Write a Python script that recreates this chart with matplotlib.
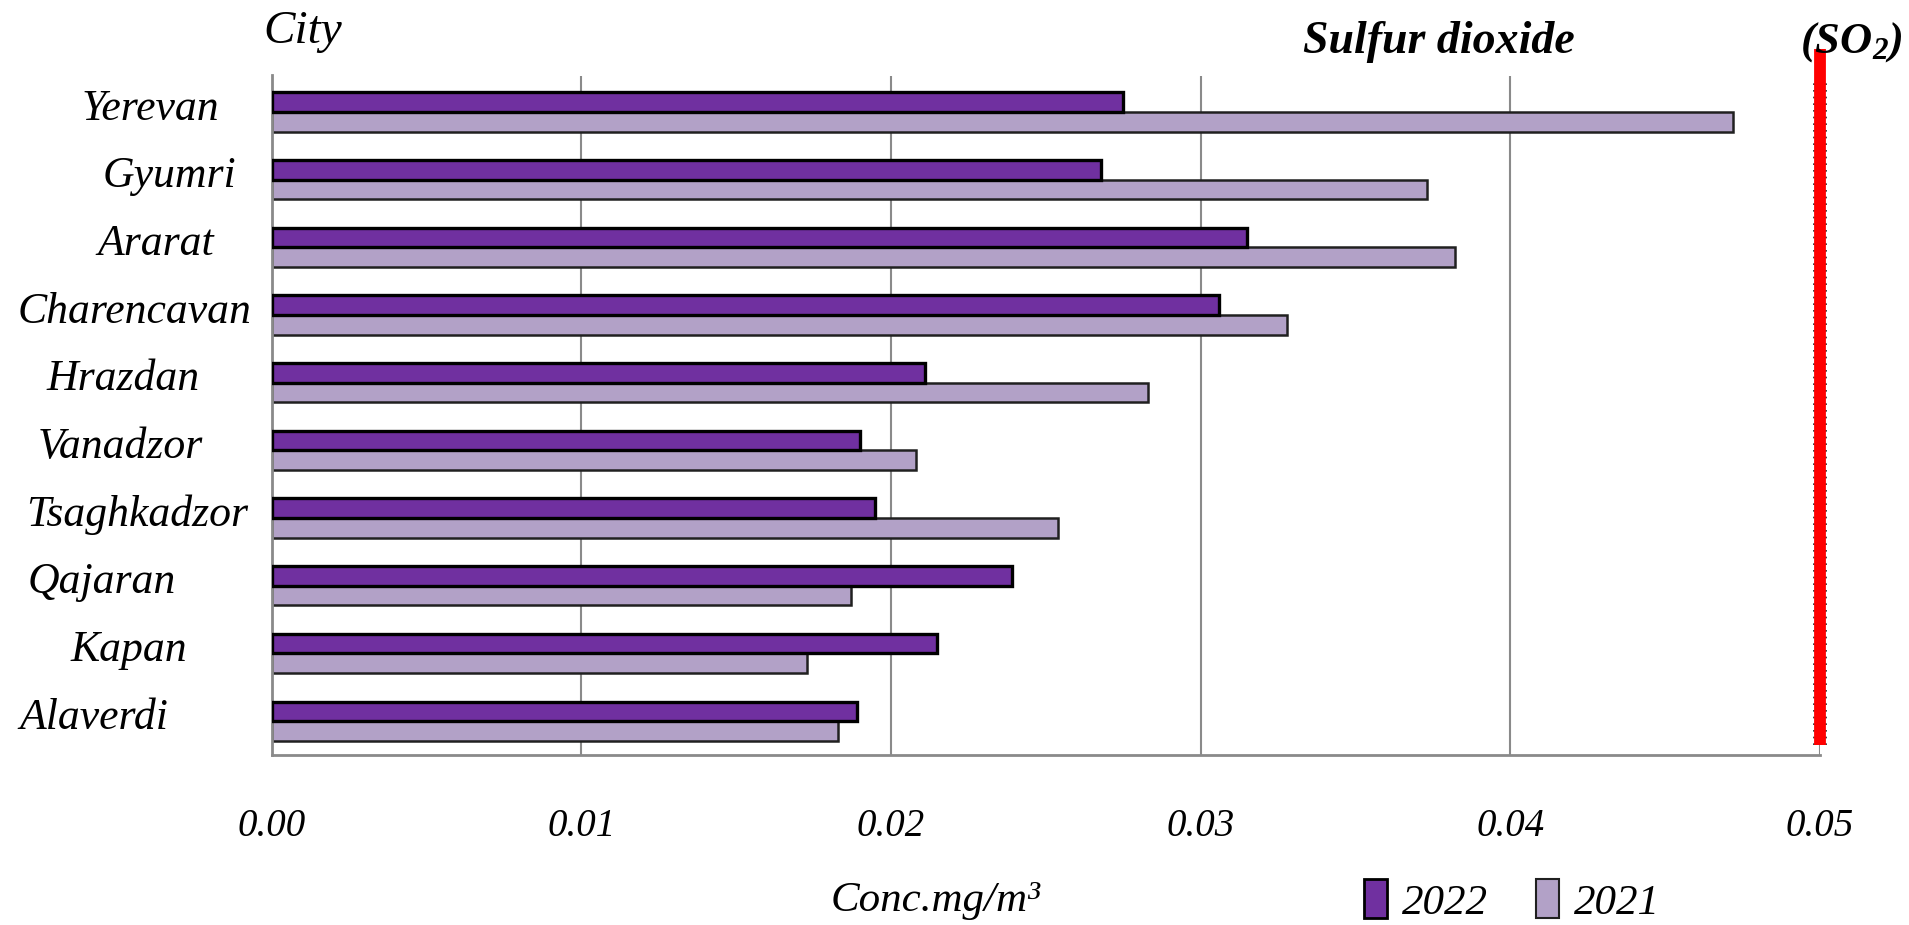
import matplotlib
matplotlib.use("Agg")
import matplotlib.pyplot as plt
import matplotlib.transforms as mtransforms
from matplotlib.patches import Patch
import numpy as np

cities = ["Yerevan", "Gyumri", "Ararat", "Charencavan", "Hrazdan",
          "Vanadzor", "Tsaghkadzor", "Qajaran", "Kapan", "Alaverdi"]
vals_2022 = [0.0275, 0.0268, 0.0315, 0.0306, 0.0211, 0.0190, 0.0195, 0.0239, 0.0215, 0.0189]
vals_2021 = [0.0472, 0.0373, 0.0382, 0.0328, 0.0283, 0.0208, 0.0254, 0.0187, 0.0173, 0.0183]
xticks = [0.00, 0.01, 0.02, 0.03, 0.04, 0.05]
xtick_labels = ["0.00", "0.01", "0.02", "0.03", "0.04", "0.05"]
series_names = ["2022", "2021"]
limit_value = 0.05

# layout: x-centre (figure px) of each city label
label_centers_px = [150, 169, 156, 134, 123, 120, 137, 102, 129, 94]

plt.rcParams['font.family'] = ['Liberation Serif', 'DejaVu Serif']
plt.rcParams['mathtext.fontset'] = 'custom'
plt.rcParams['mathtext.rm'] = 'Liberation Serif:italic:bold'
plt.rcParams['mathtext.it'] = 'Liberation Serif:italic:bold'

W, H = 1909, 925
fig = plt.figure(figsize=(W / 100, H / 100), dpi=100)
ax = fig.add_axes([271.5 / W, 1 - 755 / H, (1820 - 271.5) / W, (755 - 75.5) / H])

dark = "#7030A0"
light = "#B2A1C7"
y = np.arange(len(cities))
h = 0.29
ax.barh(y - h / 2, vals_2022, height=h, color=dark, edgecolor="black", linewidth=2.4, zorder=3)
ax.barh(y + h / 2, vals_2021, height=h, color=light, edgecolor="#202020", linewidth=1.8, zorder=2)

ax.set_xlim(0, 0.05)
ax.set_ylim(9.5, -0.54)
ax.set_xticks(xticks)
ax.set_xticklabels(xtick_labels, fontsize=28, style='italic')
ax.tick_params(axis='x', length=0, pad=38)
ax.set_yticks([])
for s in ["top", "right"]:
    ax.spines[s].set_visible(False)
for s in ["left", "bottom"]:
    ax.spines[s].set_color("#8a8a8a")
    ax.spines[s].set_linewidth(2)
ax.grid(axis='x', color="#8a8a8a", linewidth=1.5, zorder=0)

# city labels
lab_tr = mtransforms.blended_transform_factory(fig.transFigure, ax.transData)
for name, cx, yi in zip(cities, label_centers_px, y):
    ax.text(cx / W, yi - 0.05, name, transform=lab_tr,
            ha='center', va='center', fontsize=31.5, style='italic')

# red limit line
tr = ax.get_xaxis_transform()
ax.plot([limit_value, limit_value], [0.015, 1.039], transform=tr, color="#FF0000",
        linewidth=8.5, clip_on=False, zorder=5, solid_capstyle='butt')
for dx in (-6, 6):
    t2 = mtransforms.offset_copy(tr, fig=fig, x=dx, y=0, units='dots')
    ax.plot([limit_value, limit_value], [0.015, 0.99], transform=t2, color="#222222",
            linewidth=1.2, linestyle=(0, (1, 3)), clip_on=False, zorder=4)

# titles
fig.text(263 / W, 1 - 32 / H, "City", fontsize=34, style='italic', ha='left', va='center')
fig.text(1303 / W, 1 - 42 / H, "Sulfur dioxide", fontsize=33, style='italic', weight='bold',
         ha='left', va='center')
fig.text(1800 / W, 1 - 42 / H, "(SO$_2$)", fontsize=32, style='italic', weight='bold',
         ha='left', va='center')

# x-axis label
fig.text(936 / W, 1 - 901 / H, "Conc.mg/m³", fontsize=31, style='italic', ha='center', va='center')

# legend
handles = [Patch(facecolor=dark, edgecolor="black", linewidth=2),
           Patch(facecolor=light, edgecolor="#202020", linewidth=1.5)]
fig.legend(handles, series_names, loc='center', bbox_to_anchor=(1512 / W, 1 - 901 / H),
           ncol=2, frameon=False, prop={'size': 31, 'style': 'italic'},
           handlelength=0.55, handleheight=1.0, handletextpad=0.35, columnspacing=1.1)

fig.savefig("out.png", dpi=100)
